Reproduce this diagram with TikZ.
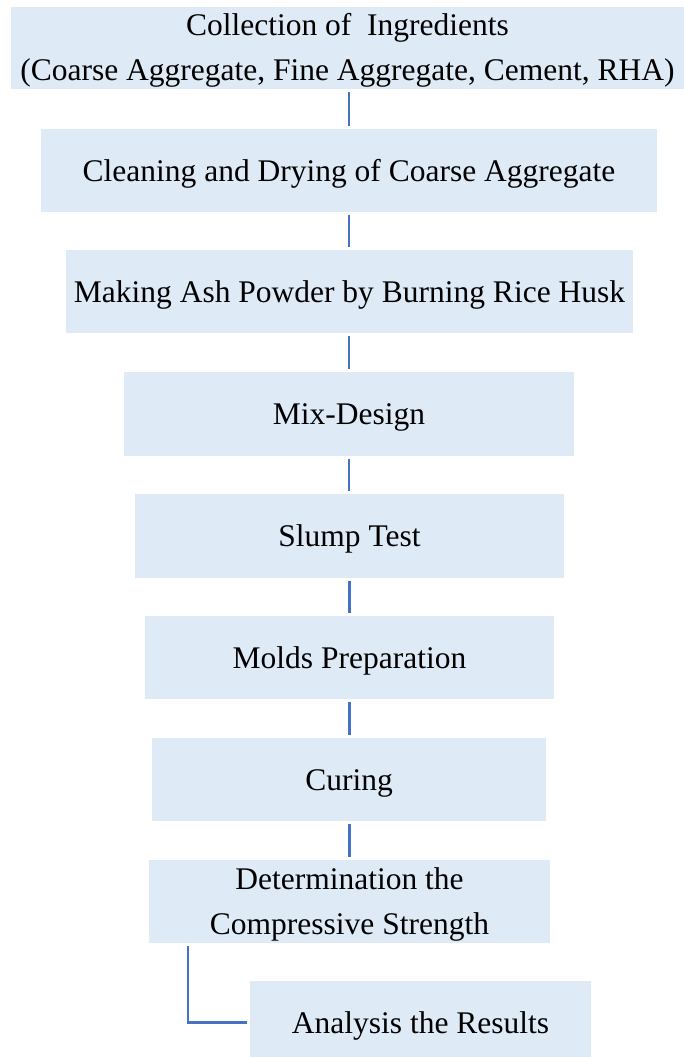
\documentclass[tikz,border=0pt]{standalone}
\usepackage{fontspec}
\setmainfont{Liberation Serif}
\definecolor{boxfill}{HTML}{DEEBF7}
\definecolor{lineblue}{HTML}{4472C4}
\begin{document}
\begin{tikzpicture}[x=1pt,y=-1pt,
  stepbox/.style={rectangle, fill=boxfill, inner sep=0pt, align=center,
    text height=21pt, text depth=0pt,
    font=\fontsize{31.5}{45}\selectfont},
  twoline/.style={text height=66pt, text depth=0pt},
  conn/.style={draw=lineblue, line width=2.2pt, shorten <=2.5pt, shorten >=2.5pt}]
\path[use as bounding box, clip] (0,0) rectangle (684,1057);
\fill[white] (0,0) rectangle (684,1057);
\node[stepbox, twoline, minimum width=673pt, minimum height=82pt] (b1) at (347.5,48)
  {Collection of\ \ Ingredients\\(Coarse Aggregate, Fine Aggregate, Cement, RHA)};
\node[stepbox, minimum width=616pt, minimum height=83pt] (b2) at (349,170.5)
  {Cleaning and Drying of Coarse Aggregate};
\node[stepbox, minimum width=567pt, minimum height=83pt] (b3) at (349.5,291.5)
  {Making Ash Powder by Burning Rice Husk};
\node[stepbox, minimum width=450pt, minimum height=84pt] (b4) at (349,414)
  {Mix-Design};
\node[stepbox, minimum width=429pt, minimum height=84pt] (b5) at (349.5,536)
  {Slump Test};
\node[stepbox, minimum width=409pt, minimum height=83pt] (b6) at (349.5,657.5)
  {Molds Preparation};
\node[stepbox, minimum width=394pt, minimum height=83pt] (b7) at (349,779.5)
  {Curing};
\node[stepbox, twoline, minimum width=401pt, minimum height=83pt] (b8) at (349.5,901.5)
  {Determination the\\Compressive Strength};
\node[stepbox, minimum width=341pt, minimum height=83pt] (b9) at (420.5,1022.5)
  {Analysis the Results};
\draw[conn] (b2.north |- b1.south) -- (b2.north);
\draw[conn] (b2.south) -- (b3.north -| b2.south);
\draw[conn] (b4.north |- b3.south) -- (b4.north);
\draw[conn] (b4.south) -- (b5.north -| b4.south);
\draw[conn] (b6.north |- b5.south) -- (b6.north);
\draw[conn] (b6.south) -- (b7.north -| b6.south);
\draw[conn] (b8.north |- b7.south) -- (b8.north);
\coordinate (c8) at ([xshift=39pt]b8.south west);
\draw[conn, shorten <=3pt, shorten >=3pt] (c8) |- (b9.west);
\end{tikzpicture}
\end{document}
